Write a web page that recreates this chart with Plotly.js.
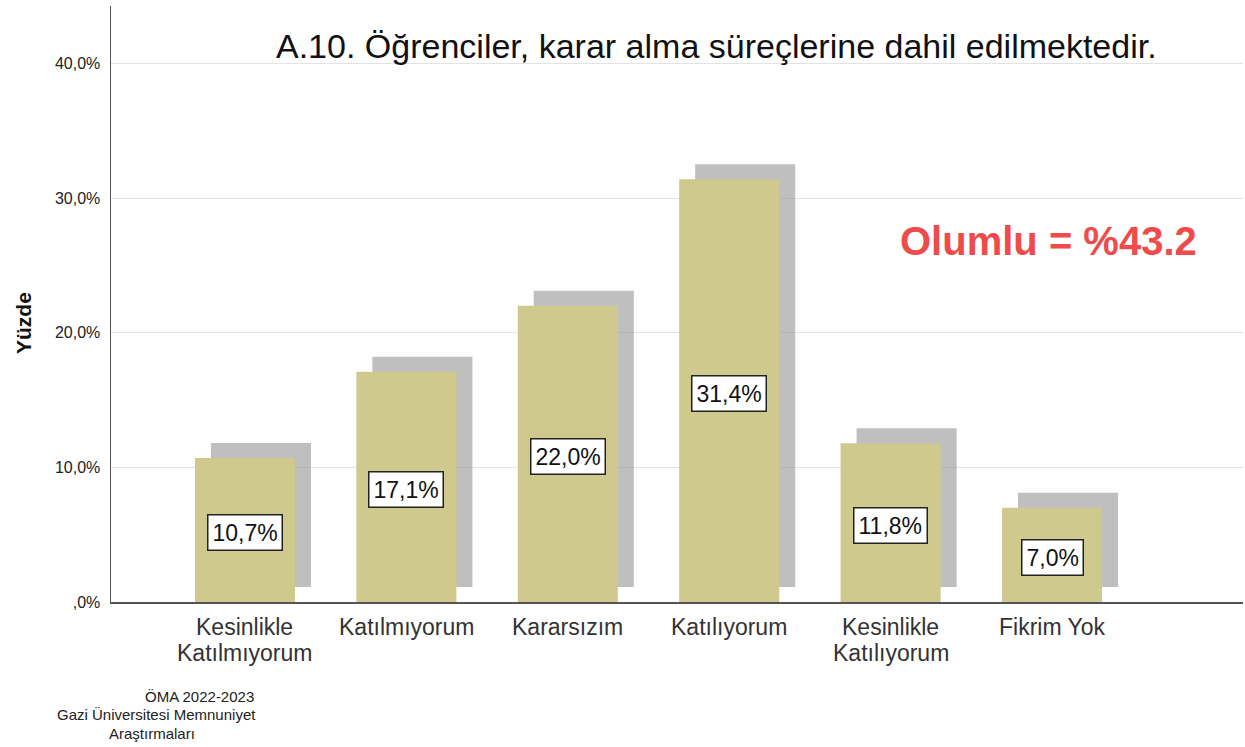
<!DOCTYPE html>
<html>
<head>
<meta charset="utf-8">
<script src="https://cdn.plot.ly/plotly-3.0.1.min.js"></script>
<style>html,body{margin:0;padding:0;background:#fff;}#chart{width:1245px;height:747px;}</style>
</head>
<body>
<div id="chart"></div>
<script>
const categories = [["Kesinlikle", "Katılmıyorum"], ["Katılmıyorum"], ["Kararsızım"], ["Katılıyorum"], ["Kesinlikle", "Katılıyorum"], ["Fikrim Yok"]];
const values = [10.7, 17.1, 22.0, 31.4, 11.8, 7.0];
const valueLabels = ["10,7%", "17,1%", "22,0%", "31,4%", "11,8%", "7,0%"];
const yTickVals = [0, 10, 20, 30, 40];
const yTickText = [",0%", "10,0%", "20,0%", "30,0%", "40,0%"];
const yTitle = "Yüzde";
const titleText = "A.10. Öğrenciler, karar alma süreçlerine dahil edilmektedir.";
const noteText = "Olumlu = %43.2";
const footerLines = ["ÖMA 2022-2023", "Gazi Üniversitesi Memnuniyet", "Araştırmaları"];

const FONT = "Liberation Sans, Arial, sans-serif";
const W = 1245, H = 747, mL = 111, mR = 2, mT = 6, mB = 145;
const pw = W - mL - mR, ph = H - mT - mB;
const px = x => (x - mL) / pw;
const py = y => 1 - (y - mT) / ph;

const idx = categories.map((c, i) => i);
const shadowBase = 1.11;

const shadow = {
  type: "bar", x: idx, y: values, base: values.map(() => shadowBase),
  width: 0.62, offset: -0.31 + 0.099,
  marker: {color: "rgba(160,160,160,0.68)", line: {width: 0}},
  hoverinfo: "skip", showlegend: false
};
const bars = {
  type: "bar", x: idx, y: values,
  width: 0.62, offset: -0.31,
  marker: {color: "#cfc98e", line: {width: 0}},
  showlegend: false
};

const annotations = values.map((v, i) => ({
  x: i, y: v / 2, xref: "x", yref: "y", text: valueLabels[i], showarrow: false,
  yshift: -3,
  font: {family: FONT, size: 23, color: "#111"},
  bgcolor: "#ffffff", bordercolor: "#222", borderwidth: 1.5, borderpad: 4
}));

// category labels (tight line pitch like the reference)
const catSize = 23, catLine1 = 627, catPitch = 26;
categories.forEach((lines, i) => {
  lines.forEach((ln, k) => {
    annotations.push({
      x: i, xref: "x", y: py(catLine1 + k * catPitch), yref: "paper", text: ln, showarrow: false,
      xanchor: "center", yanchor: "middle",
      font: {family: FONT, size: catSize, color: "#333"}
    });
  });
});

annotations.push({
  x: px(716), y: py(46), xref: "paper", yref: "paper", text: titleText, showarrow: false,
  xanchor: "center", yanchor: "middle",
  font: {family: FONT, size: 34, color: "#111"}
});
annotations.push({
  x: px(1048.5), y: py(240.5), xref: "paper", yref: "paper", text: "<b>" + noteText + "</b>", showarrow: false,
  xanchor: "center", yanchor: "middle",
  font: {family: FONT, size: 40, color: "#ef4b4b"}
});
annotations.push({
  x: px(23), y: py(323), xref: "paper", yref: "paper", text: "<b>" + yTitle + "</b>", showarrow: false,
  xanchor: "center", yanchor: "middle", textangle: -90,
  font: {family: FONT, size: 21, color: "#111"}
});
const footX = [199, 156, 151.5], footY = [696, 714.5, 733];
footerLines.forEach((ln, k) => {
  annotations.push({
    x: px(footX[k]), y: py(footY[k]), xref: "paper", yref: "paper", text: ln, showarrow: false,
    xanchor: "center", yanchor: "middle",
    font: {family: FONT, size: 15, color: "#222"}
  });
});

const layout = {
  width: W, height: H,
  margin: {l: mL, r: mR, t: mT, b: mB},
  paper_bgcolor: "#fff", plot_bgcolor: "#fff",
  barmode: "overlay",
  xaxis: {
    range: [-0.83, 6.183], tickvals: idx, showticklabels: false,
    showline: true, linecolor: "#555", linewidth: 1.5, showgrid: false, zeroline: false,
    ticks: "", fixedrange: true
  },
  yaxis: {
    range: [0, 44.27], tickvals: yTickVals, ticktext: yTickText,
    showline: true, linecolor: "#555", linewidth: 1.5, showgrid: true, gridcolor: "#e3e3e3", gridwidth: 1,
    zeroline: false, ticks: "", ticklabelstandoff: 6,
    tickfont: {family: FONT, size: 16, color: "#222"},
    fixedrange: true
  },
  annotations: annotations
};

Plotly.newPlot("chart", [shadow, bars], layout, {staticPlot: true});
</script>
</body>
</html>
